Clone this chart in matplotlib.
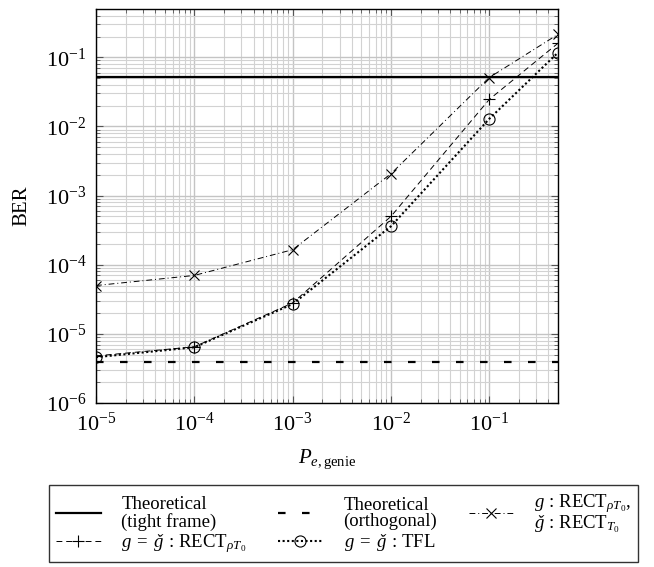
import matplotlib
matplotlib.use("Agg")
import matplotlib.pyplot as plt
from matplotlib.ticker import LogLocator, NullFormatter

plt.rcParams['font.family'] = ['Liberation Serif', 'DejaVu Serif']
plt.rcParams['mathtext.fontset'] = 'custom'
plt.rcParams['mathtext.rm'] = 'Liberation Serif'
plt.rcParams['mathtext.it'] = 'Liberation Serif:italic'
plt.rcParams['mathtext.bf'] = 'Liberation Serif:bold'
plt.rcParams['mathtext.fallback'] = 'stix'

# Data
pe = [1e-5, 1e-4, 1e-3, 1e-2, 1e-1, 0.5]
ber_tight = 0.052
ber_orth = 3.9e-6
ber_rect_rho_t0 = [5.0e-5, 7.0e-5, 1.65e-4, 2.07e-3, 0.051, 0.215]
ber_rect_same = [4.8e-6, 6.5e-6, 2.8e-5, 5.0e-4, 0.0246, 0.16]
ber_tfl = [4.6e-6, 6.4e-6, 2.7e-5, 3.6e-4, 0.0129, 0.117]

labels = [
    "Theoretical\n(tight frame)",
    "Theoretical\n(orthogonal)",
    r"$g\,:\,\mathrm{RECT}_{\rho T_0}$,""\n"r"$\mathit{ǧ}\,:\,\mathrm{RECT}_{T_0}$",
    r"$g\;=\;\mathit{ǧ}\,:\,\mathrm{RECT}_{\rho T_0}$",
    r"$g\;=\;\mathit{ǧ}\,:\,\mathrm{TFL}$",
]

fig = plt.figure(figsize=(6.54, 5.67), dpi=100)
ax = fig.add_axes([96/654, 1-403/567, (558-96)/654, (403-9)/567])

ax.set_xscale('log')
ax.set_yscale('log')
ax.set_xlim(1e-5, 0.5)
ax.set_ylim(1e-6, 0.5)

h_tight, = ax.plot([1e-5, 0.5], [ber_tight, ber_tight], color='black', lw=1.6, label=labels[0])
h_orth, = ax.plot([1e-5, 0.5], [ber_orth, ber_orth], color='black', lw=1.6,
                  dashes=(3.4, 7.4), label=labels[1])
h_rr, = ax.plot(pe, ber_rect_rho_t0, color='black', lw=0.7, marker='x', ms=7, mew=0.8,
                dashes=(6, 3, 1, 3), label=labels[2])
h_rs, = ax.plot(pe, ber_rect_same, color='black', lw=0.7, marker='+', ms=9, mew=0.8,
                dashes=(6, 4), label=labels[3])
h_tfl, = ax.plot(pe, ber_tfl, color='black', lw=1.5, marker='o', ms=8, mew=0.8,
                 mfc='none', linestyle=(0, (1, 1.2)), label=labels[4])

ax.xaxis.set_major_locator(LogLocator(base=10, numticks=20))
ax.xaxis.set_minor_locator(LogLocator(base=10, subs=range(2, 10), numticks=50))
ax.yaxis.set_major_locator(LogLocator(base=10, numticks=20))
ax.yaxis.set_minor_locator(LogLocator(base=10, subs=range(2, 10), numticks=50))
ax.xaxis.set_minor_formatter(NullFormatter())
ax.yaxis.set_minor_formatter(NullFormatter())

ax.grid(True, which='major', color='#c4c4c4', lw=1.0)
ax.grid(True, which='minor', color='#d2d2d2', lw=0.8)
ax.set_axisbelow(True)

ax.tick_params(which='both', direction='in', top=True, right=True, color='#555555')
ax.tick_params(which='major', length=5, labelsize=16, pad=7)
ax.tick_params(which='minor', length=3)
for s in ax.spines.values():
    s.set_linewidth(1.0)

ax.set_ylabel('BER', fontsize=15, labelpad=10)
ax.set_xlabel(r'$P_{e,\mathrm{genie}}$', fontsize=15, labelpad=8)

handles = [h_tight, h_rs, h_orth, h_tfl, h_rr]
labs = [labels[0], labels[3], labels[1], labels[4], labels[2]]
leg = fig.legend(handles, labs, ncol=3, loc='lower left',
                 bbox_to_anchor=(49/654, 1-562/567, (638-49)/654, (562-482)/567),
                 mode='expand', fontsize=13.5, frameon=True, fancybox=False,
                 edgecolor='black', borderaxespad=0, handlelength=2.4,
                 handletextpad=1.1, columnspacing=1.0, labelspacing=0.1,
                 borderpad=0.35)
leg.get_frame().set_linewidth(1.0)
for t in leg.get_texts():
    t.set_linespacing(0.95)

fig.savefig('out.png', dpi=100)
